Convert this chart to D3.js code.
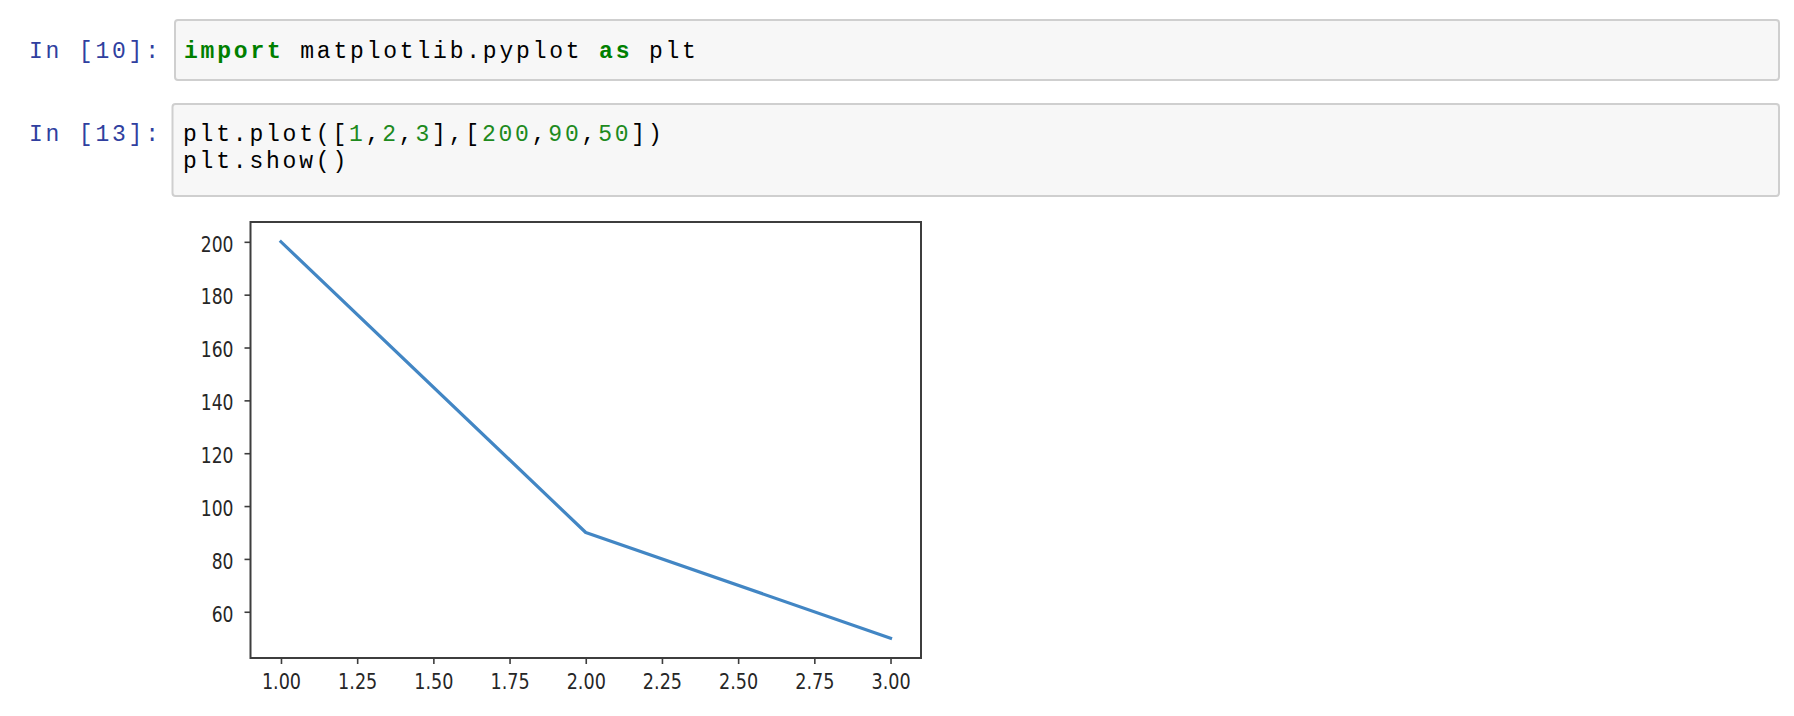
<!DOCTYPE html>
<html>
<head>
<meta charset="utf-8">
<script src="https://cdn.jsdelivr.net/npm/d3@7"></script>
<style>
  html, body { margin: 0; padding: 0; background: #fff; }
  svg { display: block; }
  .code { font-family: "Liberation Mono", "DejaVu Sans Mono", monospace; font-size: 23px; letter-spacing: 2.8px; white-space: pre; }
  .tick text { font-family: "DejaVu Sans", sans-serif; font-size: 22px; fill: #262626; }
</style>
</head>
<body>
<svg id="chart" width="1794" height="716"></svg>
<script>
// ---- data ----
const xValues = [1, 2, 3];
const yValues = [200, 90, 50];
const xTicks = [1.00, 1.25, 1.50, 1.75, 2.00, 2.25, 2.50, 2.75, 3.00];
const yTicks = [60, 80, 100, 120, 140, 160, 180, 200];
const xDomain = [0.9, 3.1];
const yDomain = [42.5, 207.5];

// notebook text
const prompt1 = "In [10]:";
const prompt2 = "In [13]:";
const cell1Tokens = [["import", "kw"], [" matplotlib.pyplot ", "p"], ["as", "kw"], [" plt", "p"]];
const cell2Line1Tokens = [["plt.plot([", "p"], ["1", "num"], [",", "p"], ["2", "num"], [",", "p"], ["3", "num"],
  ["],[", "p"], ["200", "num"], [",", "p"], ["90", "num"], [",", "p"], ["50", "num"], ["])", "p"]];
const cell2Line2Tokens = [["plt.show()", "p"]];

const svg = d3.select("#chart");

// ---- notebook cells ----
function cellBox(x, y, w, h) {
  svg.append("rect").attr("x", x).attr("y", y).attr("width", w).attr("height", h)
    .attr("rx", 3).attr("ry", 3)
    .attr("fill", "#f7f7f7").attr("stroke", "#cfcfcf").attr("stroke-width", 2);
}
function codeLine(tokens, x, y) {
  const t = svg.append("text").attr("class", "code").attr("x", x).attr("y", y);
  tokens.forEach(([s, k]) => {
    const ts = t.append("tspan").text(s);
    if (k === "kw") ts.attr("fill", "#008000").attr("font-weight", "bold");
    else if (k === "num") ts.attr("fill", "#1e8a1e");
    else ts.attr("fill", "#000");
  });
}
function promptText(s, x, y) {
  svg.append("text").attr("class", "code").attr("x", x).attr("y", y).attr("fill", "#303F9F").text(s);
}

cellBox(175, 20, 1604, 60);
promptText(prompt1, 29, 58);
codeLine(cell1Tokens, 184, 58);

cellBox(172.5, 104, 1606.5, 92);
promptText(prompt2, 29, 140.5);
codeLine(cell2Line1Tokens, 183, 140.5);
codeLine(cell2Line2Tokens, 183, 167.5);

// ---- chart ----
const plotLeft = 250.5, plotRight = 921, plotTop = 222, plotBottom = 658;
const x = d3.scaleLinear().domain(xDomain).range([plotLeft, plotRight]);
const y = d3.scaleLinear().domain(yDomain).range([plotBottom, plotTop]);

const line = d3.line().x((d, i) => x(xValues[i])).y(d => y(d));
svg.append("path").datum(yValues)
  .attr("d", line)
  .attr("fill", "none")
  .attr("stroke", "#4286c4")
  .attr("stroke-width", 3.2)
  .attr("stroke-linejoin", "round")
  .attr("stroke-linecap", "square");

const spineColor = "#3d3d3d";
const yAxis = svg.append("g").attr("transform", `translate(${plotLeft},0)`)
  .call(d3.axisLeft(y).tickValues(yTicks).tickSize(6).tickSizeOuter(0).tickFormat(d3.format("d")));
yAxis.select(".domain").remove();
yAxis.selectAll(".tick line").attr("stroke", spineColor).attr("stroke-width", 1.6);
yAxis.selectAll(".tick text")
  .attr("x", 0).attr("dy", null).attr("y", 9.3)
  .attr("text-anchor", "end")
  .attr("transform", "translate(-17,0) scale(0.78,1)");

const xAxis = svg.append("g").attr("transform", `translate(0,${plotBottom})`)
  .call(d3.axisBottom(x).tickValues(xTicks).tickSize(6).tickSizeOuter(0).tickFormat(d3.format(".2f")));
xAxis.select(".domain").remove();
xAxis.selectAll(".tick line").attr("stroke", spineColor).attr("stroke-width", 1.6);
xAxis.selectAll(".tick text")
  .attr("x", 0).attr("y", 31.3).attr("dy", null)
  .attr("text-anchor", "middle")
  .attr("transform", "scale(0.8,1)");

// frame (spines)
svg.append("rect")
  .attr("x", plotLeft).attr("y", plotTop)
  .attr("width", plotRight - plotLeft).attr("height", plotBottom - plotTop)
  .attr("fill", "none").attr("stroke", spineColor).attr("stroke-width", 2);
</script>
</body>
</html>
